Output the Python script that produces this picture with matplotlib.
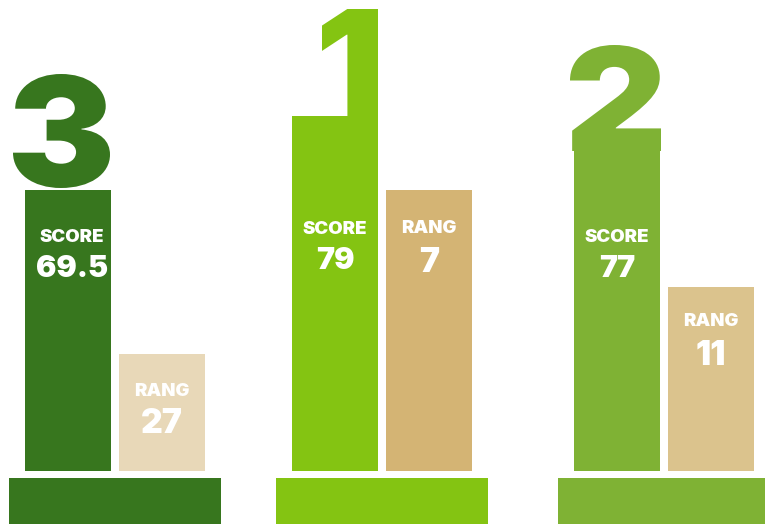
import matplotlib
matplotlib.use("Agg")
import matplotlib.pyplot as plt
from matplotlib.font_manager import FontProperties
from matplotlib.textpath import TextPath
from matplotlib.patches import PathPatch
from matplotlib.transforms import Affine2D

# ---------------- data ----------------
rank_labels = ["3", "1", "2"]
scores = [69.5, 79, 77]
rangs = [27, 7, 11]
# visual bar levels (podium heights, in chart units)
score_levels = [281, 355, 323]
rang_levels = [117, 281, 184]

score_colors = ["#37761e", "#84c412", "#7fb234"]
rang_colors = ["#e8d8b8", "#d4b474", "#dbc38d"]

group_x = [115, 382, 664]
bar_w = 86
offset = 47

fig = plt.figure(figsize=(7.65, 5.24), dpi=100)
ax = fig.add_axes([0, 0, 1, 1])
ax.set_xlim(0, 765)
ax.set_ylim(-53, 471)
ax.axis("off")

score_x = [g - offset for g in group_x]
rang_x = [g + offset for g in group_x]

ax.bar(score_x, score_levels, width=bar_w, color=score_colors, linewidth=0, zorder=2)
ax.bar(rang_x, rang_levels, width=bar_w, color=rang_colors, linewidth=0, zorder=2)
ax.bar(group_x, 46, bottom=-53, width=212, color=score_colors, linewidth=0, zorder=2)

txt_font = ["Inter", "DejaVu Sans"]
heavy = FontProperties(family=txt_font, weight="black")

# big rank numerals, fitted into a box sitting on top of each score bar
numeral_boxes = {"3": (13, 110, 114), "1": (322, 378, 110), "2": (570, 661, 106)}
for lab, sx, lvl, col in zip(rank_labels, score_x, score_levels, score_colors):
    x0, x1, h = numeral_boxes[lab]
    tp = TextPath((0, 0), lab, size=100, prop=heavy)
    ext = tp.get_extents()
    bottom = lvl + (2 if lab == "3" else -3)
    tr = (Affine2D().translate(-ext.x0, -ext.y0)
          .scale((x1 - x0) / ext.width, h / ext.height)
          .translate(x0, bottom))
    ax.add_patch(PathPatch(tr.transform_path(tp), facecolor=col, edgecolor="none", zorder=1))

# labels (baselines in chart units)
score_lab_y = [471 - 242, 471 - 234, 471 - 242]
score_val_y = [471 - 277, 471 - 269, 471 - 277]
rang_lab_y = [471 - 396, 471 - 233, 471 - 326]
rang_val_y = [471 - 433, 471 - 272, 471 - 365]

for i in range(3):
    dx = 4 if i == 0 else 0
    ax.text(score_x[i] + dx, score_lab_y[i], "SCORE", color="white", zorder=3,
            fontsize=13.4, fontweight="black", family=txt_font, ha="center", va="baseline")
    ax.text(score_x[i] + dx, score_val_y[i], f"{scores[i]:g}", color="white", zorder=3,
            fontsize=21.8, fontweight="black", family=txt_font, ha="center", va="baseline")
    ax.text(rang_x[i], rang_lab_y[i], "RANG", color="white", zorder=3,
            fontsize=13.4, fontweight="black", family=txt_font, ha="center", va="baseline")
    ax.text(rang_x[i], rang_val_y[i], f"{rangs[i]:g}", color="white", zorder=3,
            fontsize=24.3, fontweight="black", family=txt_font, ha="center", va="baseline")

fig.savefig("out.png", dpi=100)
